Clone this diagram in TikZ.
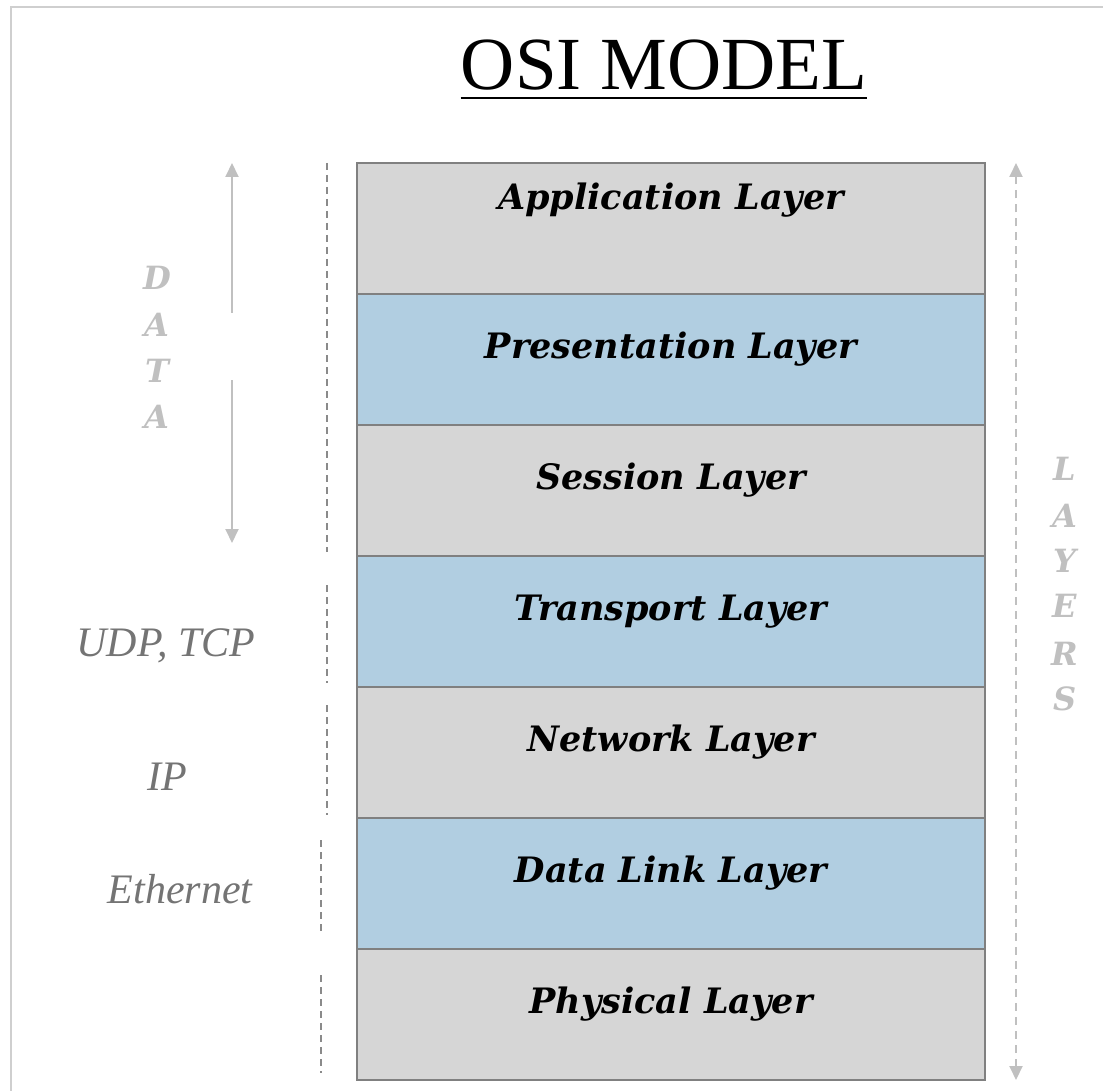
\documentclass[tikz,border=0pt]{standalone}
\usepackage{fontspec}
\setmainfont{Liberation Serif}
\newfontfamily\slabfont{DejaVu Serif}
\usetikzlibrary{arrows.meta}
\definecolor{laygray}{HTML}{D6D6D6}
\definecolor{layblue}{HTML}{B1CEE1}
\definecolor{edgegray}{HTML}{808080}
\definecolor{framegray}{HTML}{CFCFCF}
\definecolor{faint}{HTML}{C0C0C0}
\definecolor{labgray}{HTML}{747474}
\definecolor{dashgray}{HTML}{8A8A8A}
\begin{document}
\begin{tikzpicture}[x=1pt,y=-1pt,
  layerbox/.style={draw=edgegray, line width=1.5pt, minimum width=628pt, minimum height=131pt, inner sep=0pt, outer sep=0pt, anchor=north west},
  laytext/.style={font=\slabfont\fontsize{35}{38}\selectfont\bfseries\itshape, text=black, anchor=base, inner sep=0pt},
  sidelab/.style={font=\fontsize{42}{44}\selectfont\itshape, text=labgray, anchor=base, inner sep=0pt},
  vletter/.style={font=\slabfont\fontsize{32}{36}\selectfont\bfseries\itshape, text=faint, anchor=base, inner sep=0pt},
  guide/.style={draw=dashgray, line width=2pt, dash pattern=on 7pt off 5pt},
  dataarrow/.style={draw=faint, line width=2pt, -{Triangle[width=13pt,length=14pt]}},
  layarrow/.style={draw=faint, line width=2pt, dash pattern=on 8pt off 6pt, {Triangle[width=13pt,length=14pt]}-{Triangle[width=13pt,length=14pt]}}
]
\useasboundingbox (0,0) rectangle (1103,1091);
\fill[white] (0,0) rectangle (1103,1091);
\draw[framegray, line width=2.5pt] (11,1091) -- (11,7) -- (1103,7);

% title
\node[font=\fontsize{75}{80}\selectfont, anchor=base, inner sep=0pt] (title) at (664,90) {OSI MODEL};
\draw[line width=2pt] (title.base west |- 0,98) coordinate (ul1) -- (title.base east |- 0,98) coordinate (ul2);

% layers
\node[layerbox, fill=laygray] (app) at (357,163) {};
\node[layerbox, fill=layblue] (pre) at (357,294) {};
\node[layerbox, fill=laygray] (ses) at (357,425) {};
\node[layerbox, fill=layblue] (tra) at (357,556) {};
\node[layerbox, fill=laygray] (net) at (357,687) {};
\node[layerbox, fill=layblue] (dl) at (357,818) {};
\node[layerbox, fill=laygray] (phy) at (357,949) {};

\node[laytext] (tapp) at (671,210) {Application Layer};
\node[laytext] (tpre) at (671,358) {Presentation Layer};
\node[laytext] (tses) at (671,489) {Session Layer};
\node[laytext] (ttra) at (671,620) {Transport Layer};
\node[laytext] (tnet) at (671,751) {Network Layer};
\node[laytext] (tdl) at (671,882) {Data Link Layer};
\node[laytext] (tphy) at (671,1013) {Physical Layer};

% left guides
\coordinate (g1a) at (327,163); \coordinate (g1b) at (327,552);
\coordinate (g2a) at (327,585); \coordinate (g2b) at (327,683);
\coordinate (g3a) at (327,705); \coordinate (g3b) at (327,815);
\coordinate (g4a) at (321,840); \coordinate (g4b) at (321,935);
\coordinate (g5a) at (321,975); \coordinate (g5b) at (321,1073);
\draw[guide] (g1a) -- (g1b);
\draw[guide] (g2a) -- (g2b);
\draw[guide] (g3a) -- (g3b);
\draw[guide] (g4a) -- (g4b);
\draw[guide] (g5a) -- (g5b);

% side labels
\node[sidelab] (udp) at (166,656) {UDP, TCP};
\node[sidelab] (ip) at (167,790) {IP};
\node[sidelab] (eth) at (180,903) {Ethernet};

% DATA
\coordinate (da1) at (232,313); \coordinate (da2) at (232,163);
\coordinate (db1) at (232,380); \coordinate (db2) at (232,543);
\draw[dataarrow] (da1) -- (da2);
\draw[dataarrow] (db1) -- (db2);
\node[vletter] (d1) at (157,290) {D};
\node[vletter] (d2) at (157,337) {A};
\node[vletter] (d3) at (157,382) {T};
\node[vletter] (d4) at (157,428) {A};

% LAYERS
\coordinate (la1) at (1016,1080); \coordinate (la2) at (1016,163);
\draw[layarrow] (la1) -- (la2);
\node[vletter] (l1) at (1065,480) {L};
\node[vletter] (l2) at (1065,527) {A};
\node[vletter] (l3) at (1065,572) {Y};
\node[vletter] (l4) at (1065,617) {E};
\node[vletter] (l5) at (1065,665) {R};
\node[vletter] (l6) at (1065,710) {S};
\end{tikzpicture}
\end{document}
